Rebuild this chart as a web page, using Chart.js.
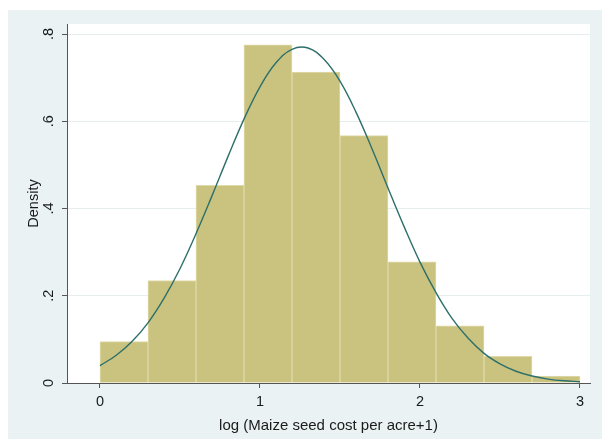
<!DOCTYPE html>
<html>
<head>
<meta charset="utf-8">
<title>Histogram</title>
<script src="https://cdn.jsdelivr.net/npm/chart.js@4/dist/chart.umd.min.js"></script>
<style>
    body { margin: 0; background: #ffffff; }
    #wrap { width: 602px; height: 439px; }
</style>
</head>
<body>
<div id="wrap"><canvas id="histChart" width="602" height="439"></canvas></div>
<script>
// Histogram bins (width 0.3) - left edges and densities
const binStarts = [0, 0.3, 0.6, 0.9, 1.2, 1.5, 1.8, 2.1, 2.4, 2.7];
const binWidth = 0.3;
const densities = [0.095, 0.235, 0.453, 0.775, 0.713, 0.567, 0.278, 0.131, 0.061, 0.016];

// Normal density overlay
const curveX = [0, 0.1, 0.2, 0.3, 0.4, 0.5, 0.6, 0.7, 0.8, 0.9, 1.0, 1.1, 1.2, 1.3, 1.4,
    1.5, 1.6, 1.7, 1.8, 1.9, 2.0, 2.1, 2.2, 2.3, 2.4, 2.5, 2.6, 2.7, 2.8, 2.9, 3.0];
const curveY = [0.040, 0.063, 0.095, 0.138, 0.194, 0.262, 0.342, 0.429, 0.519, 0.605, 0.679,
    0.734, 0.765, 0.768, 0.742, 0.692, 0.621, 0.537, 0.447, 0.359, 0.277, 0.207, 0.148,
    0.103, 0.068, 0.044, 0.027, 0.016, 0.009, 0.005, 0.003];

// Axis ticks
const xTickValues = [0, 1, 2, 3];
const yTickValues = [0, 0.2, 0.4, 0.6, 0.8];
const yTickLabels = ['0', '.2', '.4', '.6', '.8'];

const xTitle = 'log (Maize seed cost per acre+1)';
const yTitle = 'Density';

// Stata-like background: light graph region, white plot region
const backgroundPlugin = {
    id: 'stataBackground',
    beforeDraw: function(chart) {
        const ctx = chart.ctx;
        const area = chart.chartArea;
        ctx.save();
        ctx.fillStyle = '#eaf2f3';
        ctx.fillRect(8, 10, chart.width - 8, chart.height - 10);
        ctx.fillStyle = '#ffffff';
        ctx.fillRect(area.left, area.top, area.right - area.left, area.bottom - area.top);
        ctx.restore();
    }
};

Chart.defaults.font.family = '"Liberation Sans", Arial, sans-serif';
Chart.defaults.color = '#1a1a1a';

const barData = binStarts.map((s, i) => ({ x: s + binWidth / 2, y: densities[i] }));
const lineData = curveX.map((x, i) => ({ x: x, y: curveY[i] }));

new Chart(document.getElementById('histChart'), {
    type: 'bar',
    data: {
        datasets: [
            {
                type: 'line',
                data: lineData,
                borderColor: '#2d6f6a',
                borderWidth: 1.4,
                pointRadius: 0,
                tension: 0.4,
                fill: false,
                order: 0
            },
            {
                type: 'bar',
                data: barData,
                backgroundColor: '#cac380',
                borderColor: '#dfdaa9',
                borderWidth: 1,
                barPercentage: 1,
                categoryPercentage: 1,
                order: 1
            }
        ]
    },
    options: {
        responsive: false,
        animation: false,
        layout: {
            padding: { top: 24, right: 12, bottom: 0, left: 0 }
        },
        plugins: {
            legend: { display: false },
            tooltip: { enabled: false }
        },
        scales: {
            x: {
                type: 'linear',
                min: -0.206,
                max: 3.0625,
                offset: false,
                afterBuildTicks: function(scale) {
                    scale.ticks = xTickValues.map(v => ({ value: v }));
                },
                afterFit: function(scale) {
                    scale.height = 56;
                },
                grid: {
                    offset: false,
                    drawOnChartArea: false,
                    drawTicks: true,
                    tickLength: 5,
                    tickColor: '#555555'
                },
                border: { color: '#555555', width: 1 },
                ticks: {
                    font: { size: 14.5 },
                    padding: 5,
                    maxRotation: 0,
                    callback: function(value) { return String(value); }
                },
                title: {
                    display: true,
                    text: xTitle,
                    font: { size: 15 },
                    padding: { top: 0, bottom: 4 }
                }
            },
            y: {
                type: 'linear',
                min: 0,
                max: 0.823,
                afterBuildTicks: function(scale) {
                    scale.ticks = yTickValues.map(v => ({ value: v }));
                },
                afterFit: function(scale) {
                    scale.width = 67;
                },
                grid: {
                    color: '#e6eef0',
                    lineWidth: 1,
                    drawTicks: true,
                    tickLength: 5,
                    tickColor: '#555555'
                },
                border: { color: '#555555', width: 1 },
                ticks: {
                    font: { size: 14.5 },
                    minRotation: 90,
                    maxRotation: 90,
                    crossAlign: 'center',
                    padding: 7,
                    callback: function(value) {
                        const i = yTickValues.indexOf(value);
                        return i >= 0 ? yTickLabels[i] : '';
                    }
                },
                title: {
                    display: true,
                    text: yTitle,
                    font: { size: 14.5 },
                    padding: { top: 25, bottom: 0 }
                }
            }
        }
    },
    plugins: [backgroundPlugin]
});
</script>
</body>
</html>
